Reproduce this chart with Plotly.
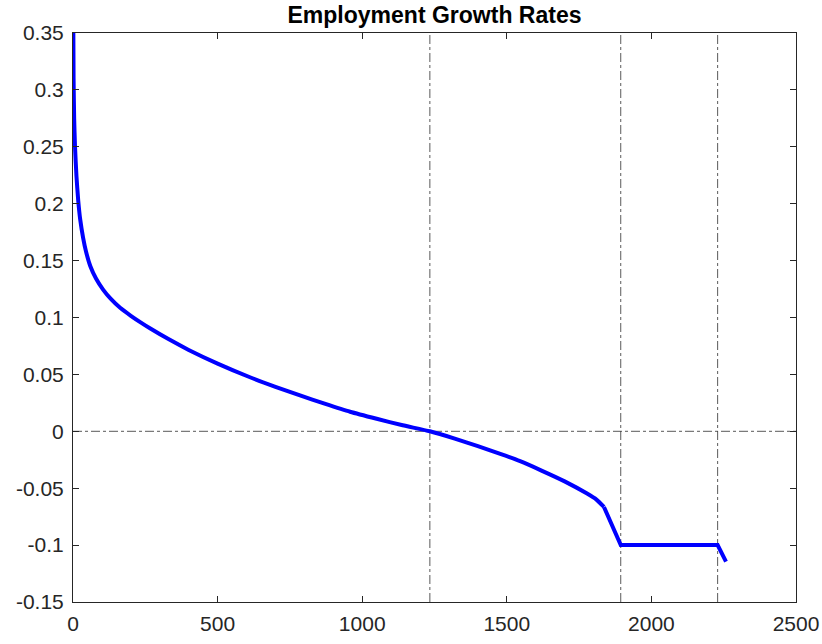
import plotly.graph_objects as go

# Employment growth rate profile, sorted from fastest growth to fastest decline.
# Smooth part of the distribution
rank_smooth = [1, 2, 4, 7, 12, 18, 25, 35, 45, 60, 80, 104, 130, 163, 200,
               235, 266, 330, 400, 500, 612, 700, 785, 870, 958, 1050, 1140,
               1234, 1320, 1400, 1480, 1546, 1620, 1700, 1776, 1810, 1836]
growth_smooth = [0.36, 0.31, 0.275, 0.25, 0.224, 0.203, 0.186, 0.170, 0.158,
                 0.145, 0.134, 0.1245, 0.1165, 0.1085, 0.1015, 0.0955, 0.0905,
                 0.0810, 0.0715, 0.0595, 0.0475, 0.0391, 0.0315, 0.0243,
                 0.0172, 0.0110, 0.0053, 0.0, -0.0064, -0.0130, -0.0201,
                 -0.0263, -0.0345, -0.0440, -0.0545, -0.0600, -0.0665]
# Piecewise-linear tail (floor at -0.1)
rank_tail = [1836, 1894, 2229, 2258]
growth_tail = [-0.0665, -0.100, -0.100, -0.1146]

# Reference markers
vline_x = [1234, 1894, 2229]
hline_y = [0]

x_ticks = [0, 500, 1000, 1500, 2000, 2500]
y_ticks = [-0.15, -0.1, -0.05, 0, 0.05, 0.1, 0.15, 0.2, 0.25, 0.3, 0.35]
y_tick_text = ["-0.15", "-0.1", "-0.05", "0", "0.05", "0.1", "0.15", "0.2",
               "0.25", "0.3", "0.35"]

blue = dict(color="#0000ff", width=4)
fig = go.Figure()
fig.add_trace(go.Scatter(x=rank_smooth, y=growth_smooth, mode="lines",
                         line=dict(shape="spline", smoothing=0.6, **blue),
                         showlegend=False, hoverinfo="skip"))
fig.add_trace(go.Scatter(x=rank_tail, y=growth_tail, mode="lines",
                         line=blue, showlegend=False, hoverinfo="skip"))

ref_line = dict(color="rgba(60,60,60,0.85)", width=1, dash="dashdot")
for xv in vline_x:
    fig.add_shape(type="line", xref="x", yref="paper", x0=xv, x1=xv,
                  y0=0, y1=1, line=ref_line, layer="below")
for yv in hline_y:
    fig.add_shape(type="line", xref="paper", yref="y", x0=0, x1=1,
                  y0=yv, y1=yv, line=ref_line, layer="below")

axis_common = dict(showgrid=False, zeroline=False, showline=True,
                   linecolor="#262626", linewidth=1, mirror="ticks",
                   ticks="inside", ticklen=6, tickcolor="#262626",
                   automargin=False,
                   tickfont=dict(family="Liberation Sans, Arial", size=21,
                                 color="#262626"))

fig.update_layout(
    width=822, height=644,
    margin=dict(l=73, r=26, t=33, b=42, autoexpand=False),
    paper_bgcolor="white", plot_bgcolor="white",
    title=dict(text="<b>Employment Growth Rates</b>", x=0.5, xref="paper",
               y=1 - 15 / 644, yref="container", yanchor="middle",
               font=dict(family="Liberation Sans, Arial", size=23,
                         color="black")),
    xaxis=dict(range=[0, 2500], tickvals=x_ticks, ticklabelstandoff=3,
               **axis_common),
    yaxis=dict(range=[-0.15, 0.35], tickvals=y_ticks, ticktext=y_tick_text,
               ticklabelstandoff=4, **axis_common),
)

fig.write_html("out.html")
